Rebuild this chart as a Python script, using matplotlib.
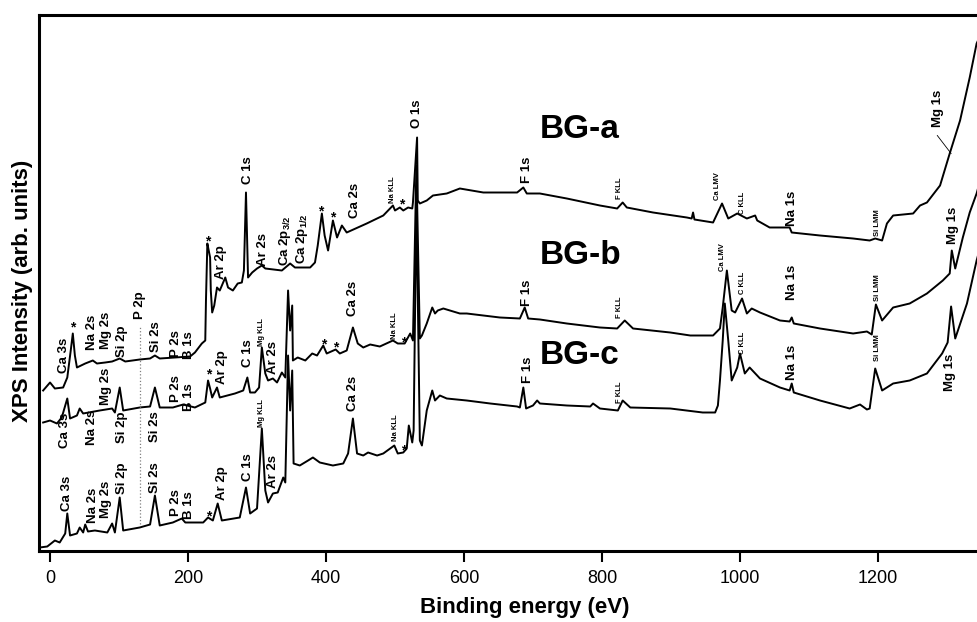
import matplotlib
matplotlib.use('Agg')
import matplotlib.pyplot as plt

plt.rcParams['font.family'] = ['Liberation Sans', 'DejaVu Sans']
plt.rcParams['mathtext.default'] = 'regular'

# survey spectra: binding energy (eV) vs intensity (arb. units)
bga_energy = [-10, 0, 7, 19, 25, 30, 33, 36, 39, 51, 62, 68, 80, 90, 101, 109, 130, 145, 152, 159,
              181, 203, 210, 220, 225, 226, 228, 230, 232, 233, 235, 238, 242, 246, 254, 258, 265,
              272, 278, 281, 284, 287, 293, 300, 307, 312, 336, 348, 355, 377, 384, 388, 394, 398,
              403, 410, 416, 423, 430, 459, 483, 497, 500, 507, 512, 519, 525, 526, 532, 533, 536,
              546, 555, 575, 594, 628, 677, 686, 691, 710, 749, 797, 822, 830, 836, 874, 923, 930,
              932, 934, 961, 974, 983, 996, 1010, 1022, 1025, 1043, 1072, 1075, 1116, 1164, 1188,
              1196, 1206, 1213, 1222, 1251, 1261, 1271, 1290, 1304, 1319, 1333, 1343, 1345]
bga_counts = [160, 168, 162, 163, 173, 200, 217, 195, 183, 187, 190, 187, 188, 189, 192, 189, 191, 192,
              195, 192, 193, 194, 198, 207, 210, 250, 307, 300, 293, 260, 238, 245, 263, 260, 273, 263,
              260, 267, 268, 280, 358, 273, 278, 282, 285, 282, 280, 287, 283, 283, 288, 305, 337, 315,
              300, 330, 313, 325, 318, 327, 335, 345, 340, 343, 340, 343, 342, 348, 413, 350, 347, 350,
              355, 357, 362, 358, 358, 363, 357, 357, 352, 345, 342, 348, 343, 338, 333, 332, 338, 331,
              328, 347, 332, 337, 332, 335, 330, 323, 323, 318, 315, 312, 310, 312, 310, 327, 335, 337,
              345, 348, 365, 397, 430, 473, 507, 510]

bgb_energy = [-10, 0, 10, 17, 25, 29, 39, 43, 48, 72, 90, 94, 101, 106, 130, 145, 152, 159, 178, 193,
              210, 225, 229, 232, 235, 242, 246, 268, 280, 286, 290, 297, 303, 307, 312, 316, 323, 329,
              336, 341, 345, 348, 351, 352, 359, 370, 380, 387, 396, 401, 414, 420, 430, 439, 446, 454,
              464, 478, 497, 504, 514, 522, 526, 531, 536, 539, 546, 554, 558, 562, 570, 594, 604, 652,
              681, 688, 693, 710, 749, 797, 822, 833, 845, 899, 928, 961, 971, 975, 981, 988, 993,
              1003, 1010, 1017, 1029, 1058, 1072, 1075, 1078, 1116, 1164, 1184, 1191, 1197, 1206, 1222,
              1246, 1271, 1294, 1304, 1307, 1312, 1323, 1333, 1343, 1345]
bgb_counts = [128, 130, 127, 133, 152, 132, 135, 142, 137, 140, 142, 138, 163, 140, 143, 144, 163, 143,
              143, 146, 143, 148, 170, 162, 153, 163, 153, 157, 160, 173, 158, 158, 163, 203, 177, 170,
              172, 168, 178, 173, 260, 220, 245, 190, 193, 190, 197, 195, 205, 197, 201, 197, 200, 223,
              207, 203, 206, 204, 210, 207, 207, 217, 210, 385, 212, 215, 227, 243, 237, 240, 242, 237,
              237, 233, 232, 243, 232, 231, 227, 223, 222, 230, 222, 218, 215, 215, 222, 243, 280, 240,
              238, 252, 237, 242, 238, 230, 229, 233, 227, 222, 217, 219, 216, 246, 230, 243, 247, 257,
              270, 277, 300, 282, 313, 338, 357, 362]

bgc_energy = [-15, -4, 7, 14, 22, 25, 29, 39, 43, 48, 51, 55, 65, 83, 90, 94, 101, 106, 130, 145, 152,
              159, 178, 191, 196, 222, 229, 236, 243, 249, 275, 284, 290, 300, 307, 312, 316, 323, 330,
              338, 341, 345, 348, 351, 353, 362, 374, 381, 391, 410, 425, 432, 439, 445, 454, 461, 474,
              483, 499, 504, 512, 517, 520, 525, 527, 531, 536, 539, 546, 554, 558, 565, 575, 604, 638,
              677, 681, 686, 690, 700, 706, 710, 749, 783, 787, 797, 823, 830, 841, 899, 946, 964, 968,
              971, 975, 978, 983, 988, 996, 1000, 1007, 1014, 1029, 1058, 1072, 1075, 1078, 1116, 1159,
              1174, 1184, 1188, 1196, 1206, 1222, 1246, 1271, 1293, 1301, 1306, 1312, 1329, 1343, 1345]
bgc_counts = [3, 4, 10, 8, 17, 37, 15, 17, 23, 18, 26, 19, 20, 18, 27, 18, 53, 20, 23, 26, 55, 25, 28,
              32, 28, 28, 33, 30, 47, 30, 33, 63, 37, 42, 122, 60, 48, 57, 58, 73, 68, 195, 140, 180, 87,
              85, 90, 93, 88, 85, 87, 97, 132, 97, 95, 98, 95, 97, 105, 97, 98, 102, 125, 108, 120, 350,
              110, 105, 140, 160, 150, 155, 152, 150, 147, 144, 143, 163, 142, 145, 150, 147, 145, 144,
              147, 142, 140, 150, 143, 142, 138, 138, 145, 170, 210, 247, 210, 170, 183, 197, 177, 183,
              172, 163, 160, 167, 158, 150, 142, 146, 141, 142, 182, 160, 167, 170, 177, 197, 208, 244,
              212, 247, 290, 295]

x_ticks = [0, 200, 400, 600, 800, 1000, 1200]

# peak assignments: (text, energy, intensity)
labels_a = [("Ca 3s", 20, 195), ("Na 2s", 61, 218), ("Mg 2s", 81, 220), ("Si 2p", 104, 209),
            ("P 2p", 130, 245), ("Si 2s", 154, 214), ("P 2s", 183, 207), ("B 1s", 201, 205),
            ("Ar 2p", 248, 288), ("C 1s", 287, 380), ("Ar 2s", 309, 301),
            ("Ca 2p$_{3/2}$", 341, 310), ("Ca 2p$_{1/2}$", 365, 312), ("Ca 2s", 442, 350),
            ("Na KLL", 497, 361), ("O 1s", 532, 437), ("F 1s", 691, 381), ("F KLL", 826, 362),
            ("Ca LMV", 968, 364), ("C KLL", 1004, 348), ("Na 1s", 1075, 342),
            ("Si LMM", 1200, 328), ("Mg 1s", 1287, 442)]
labels_b = [("Ca 3s", 22, 120), ("Na 2s", 61, 123), ("Mg 2s", 81, 164), ("Si 2p", 104, 123),
            ("Si 2s", 152, 124), ("P 2s", 183, 162), ("B 1s", 201, 153), ("Ar 2p", 249, 183),
            ("C 1s", 287, 197), ("Mg KLL", 307, 218), ("Ar 2s", 323, 193), ("Ca 2s", 439, 252),
            ("Na KLL", 499, 225), ("F 1s", 691, 258), ("F KLL", 825, 243), ("Ca LMV", 974, 293),
            ("C KLL", 1004, 268), ("Na 1s", 1075, 268), ("Si LMM", 1200, 263), ("Mg 1s", 1309, 325)]
labels_c = [("Ca 3s", 25, 57), ("Na 2s", 62, 45), ("Mg 2s", 81, 51), ("Si 2p", 104, 72),
            ("Si 2s", 152, 73), ("P 2s", 183, 48), ("B 1s", 201, 45), ("Ar 2p", 249, 67),
            ("C 1s", 287, 83), ("Mg KLL", 307, 137), ("Ar 2s", 323, 79), ("Ca 2s", 439, 157),
            ("Na KLL", 500, 123), ("F 1s", 693, 181), ("F KLL", 825, 158), ("C KLL", 1004, 208),
            ("Na 1s", 1075, 188), ("Si LMM", 1200, 203), ("Mg 1s", 1304, 178)]
auger = {"Na KLL", "Mg KLL", "F KLL", "C KLL", "Ca LMV", "Si LMM"}

# satellite markers (energy, intensity of baseline)
stars = [(33, 219), (228, 305), (393, 335), (410, 329), (510, 342),
         (230, 172), (396, 202), (414, 199), (512, 204),
         (230, 30), (513, 96)]

sample_names = ["BG-a", "BG-b", "BG-c"]
sample_pos = [(710, 412), (710, 287), (710, 187)]

fig = plt.figure(figsize=(9.78, 6.22), dpi=100)
ax = fig.add_axes([39 / 978, 71.5 / 622, 939 / 978, 535.5 / 622])

for e, c in [(bga_energy, bga_counts), (bgb_energy, bgb_counts), (bgc_energy, bgc_counts)]:
    ax.plot(e, c, color='black', lw=1.4, solid_joinstyle='round')

# P 2p reference line
ax.plot([130, 130], [27, 225], color='grey', ls=':', lw=0.9)
# leader for Mg 1s of BG-a
ax.plot([1286, 1306], [415, 397], color='black', lw=0.6)

for lab in (labels_a, labels_b, labels_c):
    for txt, e, c in lab:
        fs = 5.5 if txt in auger else 9.5
        ax.text(e, c, txt, rotation=90, ha='center', va='center', fontsize=fs, fontweight='bold')

for e, c in stars:
    ax.text(e, c, '*', ha='center', va='baseline', fontsize=10, fontweight='bold')

for name, (e, c) in zip(sample_names, sample_pos):
    ax.text(e, c, name, ha='left', va='baseline', fontsize=24, fontweight='bold')

ax.set_xlim(-16, 1345)
ax.set_ylim(0, 535.5)
ax.set_xticks(x_ticks)
ax.set_yticks([])
ax.tick_params(axis='x', direction='out', length=8, width=1.5, pad=6, labelsize=13)
for s in ['left', 'bottom', 'top']:
    ax.spines[s].set_linewidth(2.2)
ax.spines['right'].set_visible(False)

fig.text(525 / 978, 1 - 607 / 622, 'Binding energy (eV)', ha='center', va='center',
         fontsize=16, fontweight='bold')
fig.text(23 / 978, 1 - 291 / 622, 'XPS Intensity (arb. units)', rotation=90, ha='center',
         va='center', fontsize=16, fontweight='bold')

fig.savefig('out.png', dpi=100)
